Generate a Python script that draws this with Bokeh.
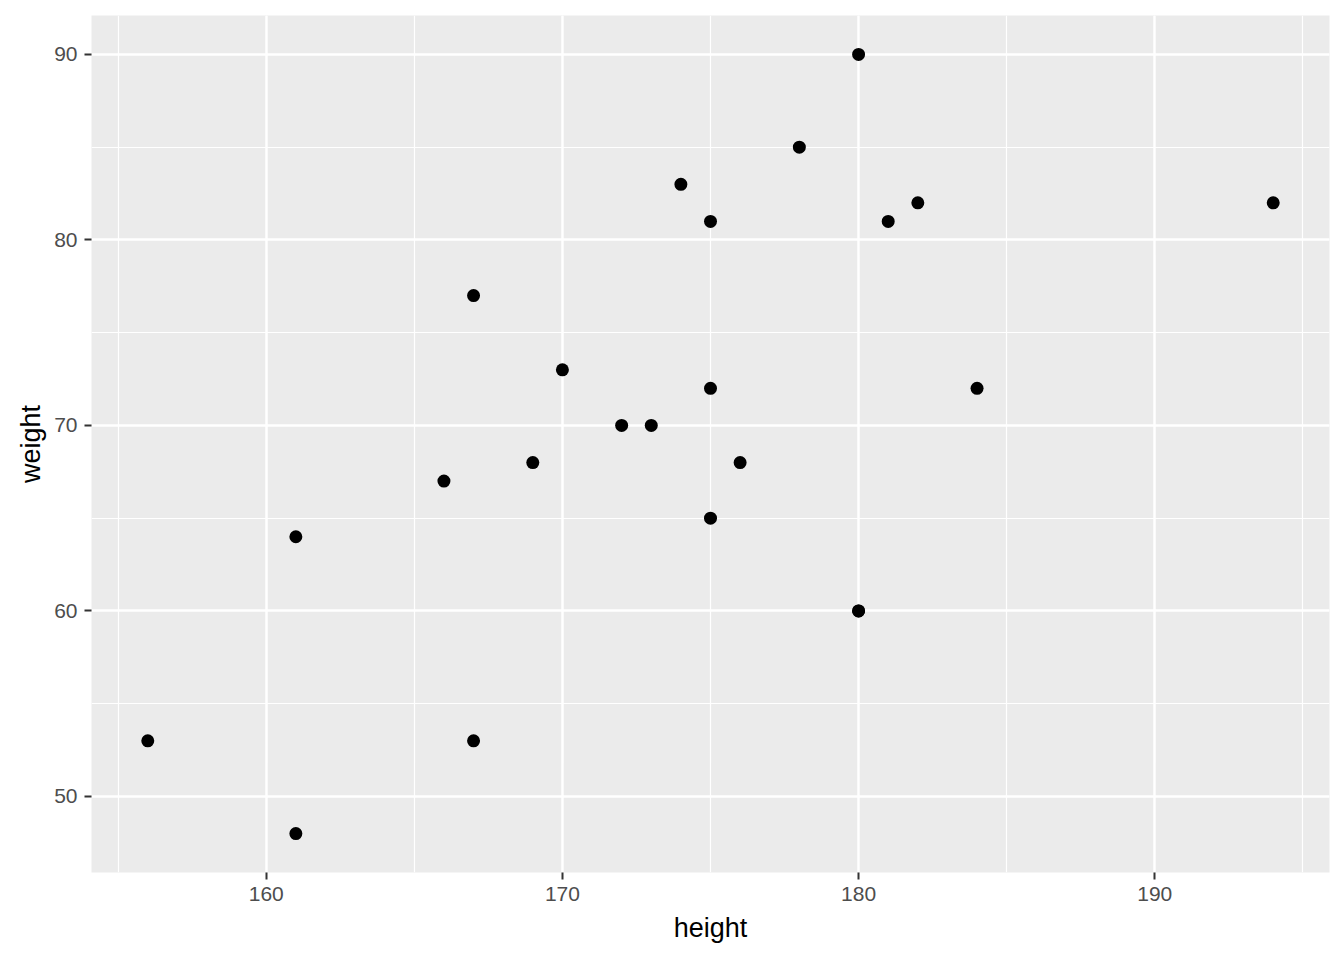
from bokeh.plotting import figure
from bokeh.models import Range1d, SingleIntervalTicker, ColumnDataSource
from bokeh.embed import file_html
from bokeh.resources import INLINE

height = [156, 161, 161, 166, 167, 167, 169, 170, 172, 173, 174, 175, 175, 175,
          176, 178, 180, 180, 180, 181, 182, 184, 194]
weight = [53, 64, 48, 67, 77, 53, 68, 73, 70, 70, 83, 81, 72, 65,
          68, 85, 90, 60, 60, 81, 82, 72, 82]

src = ColumnDataSource(dict(height=height, weight=weight))

p = figure(width=1336, height=952, output_backend="svg", toolbar_location=None,
           x_range=Range1d(154.1, 195.9), y_range=Range1d(45.9, 92.1),
           min_border_left=91, min_border_right=7, min_border_top=15, min_border_bottom=80)

p.background_fill_color = "#EBEBEB"
p.border_fill_color = "white"
p.outline_line_color = None

p.xaxis.ticker = SingleIntervalTicker(interval=10, num_minor_ticks=2)
p.yaxis.ticker = SingleIntervalTicker(interval=10, num_minor_ticks=2)

for g in (p.xgrid[0], p.ygrid[0]):
    g.grid_line_color = "white"
    g.grid_line_width = 2.4
    g.minor_grid_line_color = "white"
    g.minor_grid_line_width = 1.2

for ax in (p.xaxis[0], p.yaxis[0]):
    ax.axis_line_color = None
    ax.major_tick_in = 0
    ax.major_tick_out = 7
    ax.major_tick_line_color = "#333333"
    ax.major_tick_line_width = 2
    ax.minor_tick_line_color = None
    ax.major_label_text_font = "Liberation Sans"
    ax.major_label_text_font_size = "21px"
    ax.major_label_text_color = "#4D4D4D"
    ax.major_label_standoff = 7
    ax.axis_label_text_font = "Liberation Sans"
    ax.axis_label_text_font_size = "27px"
    ax.axis_label_text_font_style = "normal"
    ax.axis_label_text_color = "black"

p.xaxis.axis_label = "height"
p.yaxis.axis_label = "weight"
p.xaxis.axis_label_standoff = 9
p.yaxis.axis_label_standoff = 5

p.scatter("height", "weight", source=src, size=13, fill_color="black", line_color=None)

open("out.html", "w").write(file_html(p, INLINE))
